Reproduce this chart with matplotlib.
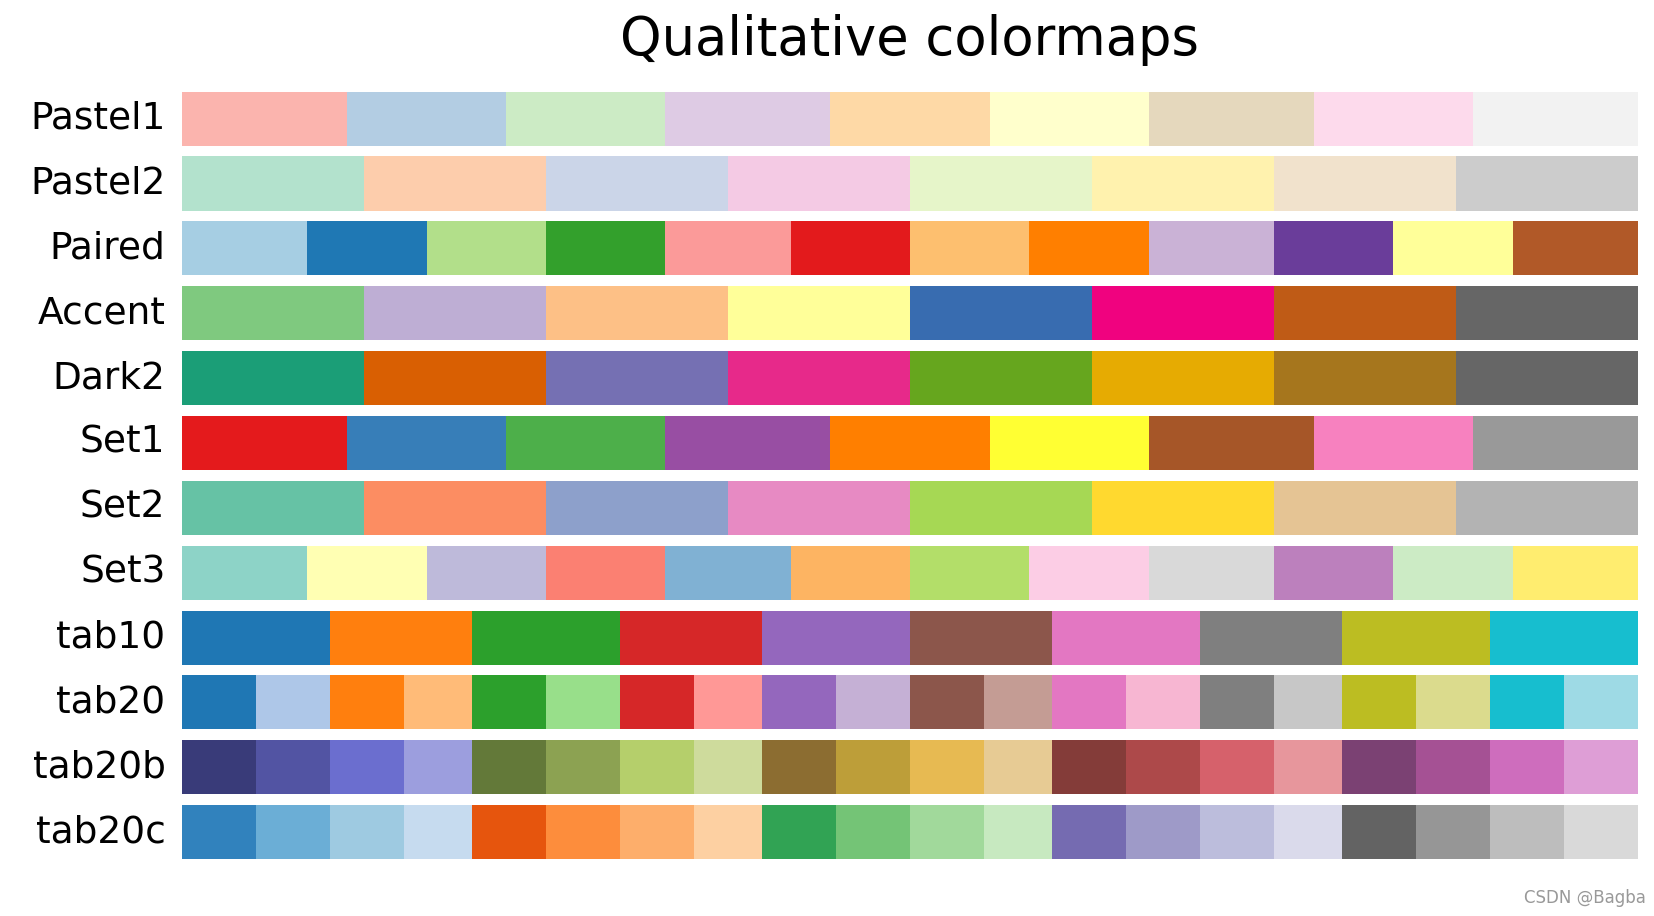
import numpy as np
import matplotlib
matplotlib.use("Agg")
import matplotlib.pyplot as plt

cmap_names = ['Pastel1', 'Pastel2', 'Paired', 'Accent', 'Dark2', 'Set1', 'Set2',
              'Set3', 'tab10', 'tab20', 'tab20b', 'tab20c']
title = 'Qualitative colormaps'
watermark = 'CSDN @Bagba'

gradient = np.linspace(0, 1, 256)
gradient = np.vstack((gradient, gradient))

fig, axs = plt.subplots(nrows=len(cmap_names), figsize=(16.54, 9.16), dpi=100)
fig.subplots_adjust(top=0.9, bottom=0.062, left=0.11, right=0.99, hspace=0.2)
fig.suptitle(title, fontsize=38, x=0.55, y=0.985)

for ax, name in zip(axs, cmap_names):
    ax.imshow(gradient, aspect='auto', cmap=plt.get_cmap(name))
    pos = ax.get_position()
    fig.text(pos.x0 - 0.01, pos.y0 + pos.height / 2, name,
             va='center', ha='right', fontsize=27)
    ax.set_axis_off()

fig.text(0.995, 0.01, watermark, ha='right', va='bottom', fontsize=12, color='#999999')
fig.savefig('out.png', dpi=100, facecolor='white')
